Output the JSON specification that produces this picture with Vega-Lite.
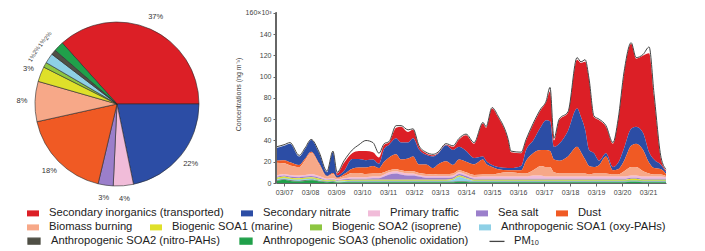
{
  "$schema": "https://vega.github.io/schema/vega-lite/v6.json",
  "padding": 5,
  "background": "white",
  "config": {
    "view": {"stroke": null},
    "font": "Liberation Sans",
    "concat": {"spacing": 5},
    "legend": {
      "orient": "none", "direction": "horizontal",
      "title": null, "labelFontSize": 11.2, "labelColor": "#222", "labelLimit": 400,
      "columnPadding": 17, "labelOffset": 10, "symbolSize": 144
    }
  },
  "datasets": {
    "comps": [
      {"key": "si", "name": "Secondary inorganics (transported)", "k": 1, "s": 11, "p": 0.37, "c0": 0, "c1": 0.37, "cm": 0.185},
      {"key": "sn", "name": "Secondary nitrate", "k": 2, "s": 10, "p": 0.22, "c0": 0.37, "c1": 0.59, "cm": 0.48},
      {"key": "pt", "name": "Primary traffic", "k": 3, "s": 7, "p": 0.04, "c0": 0.59, "c1": 0.63, "cm": 0.61},
      {"key": "ss", "name": "Sea salt", "k": 4, "s": 6, "p": 0.03, "c0": 0.63, "c1": 0.66, "cm": 0.645},
      {"key": "du", "name": "Dust", "k": 5, "s": 9, "p": 0.18, "c0": 0.66, "c1": 0.84, "cm": 0.75},
      {"key": "bb", "name": "Biomass burning", "k": 6, "s": 8, "p": 0.08, "c0": 0.84, "c1": 0.92, "cm": 0.88},
      {"key": "b1", "name": "Biogenic SOA1 (marine)", "k": 7, "s": 5, "p": 0.03, "c0": 0.92, "c1": 0.95, "cm": 0.935},
      {"key": "b2", "name": "Biogenic SOA2 (isoprene)", "k": 8, "s": 4, "p": 0.01, "c0": 0.95, "c1": 0.96, "cm": 0.955},
      {"key": "a1", "name": "Anthropogenic SOA1 (oxy-PAHs)", "k": 9, "s": 3, "p": 0.02, "c0": 0.96, "c1": 0.98, "cm": 0.97},
      {"key": "a2", "name": "Anthropogenic SOA2 (nitro-PAHs)", "k": 10, "s": 2, "p": 0.01, "c0": 0.98, "c1": 0.99, "cm": 0.985},
      {"key": "a3", "name": "Anthropogenic SOA3 (phenolic oxidation)", "k": 11, "s": 1, "p": 0.02, "c0": 0.99, "c1": 1.01, "cm": 1.0}
    ],
    "ts": [
      {"d": 6.69, "si": 0, "sn": 12, "pt": 1.5, "ss": 1, "du": 2, "bb": 12, "b1": 1, "b2": 0.5, "a1": 1, "a2": 0.5, "a3": 1.5, "pm": 34},
      {"d": 7.0, "si": 0, "sn": 13.5, "pt": 1.5, "ss": 1, "du": 3, "bb": 10, "b1": 1, "b2": 0.5, "a1": 1, "a2": 0.5, "a3": 3, "pm": 36},
      {"d": 7.23, "si": 0, "sn": 17.5, "pt": 1.5, "ss": 1, "du": 3, "bb": 9, "b1": 1, "b2": 0.5, "a1": 1, "a2": 0.5, "a3": 2, "pm": 38},
      {"d": 7.58, "si": 0, "sn": 8, "pt": 1.5, "ss": 1, "du": 2, "bb": 8, "b1": 1, "b2": 0.5, "a1": 1, "a2": 0.5, "a3": 1.5, "pm": 26},
      {"d": 7.81, "si": 0, "sn": 9, "pt": 1.5, "ss": 1, "du": 1.5, "bb": 14, "b1": 1, "b2": 0.5, "a1": 1, "a2": 0.5, "a3": 2, "pm": 33},
      {"d": 8.04, "si": 0, "sn": 11, "pt": 2, "ss": 1, "du": 1, "bb": 20, "b1": 1, "b2": 0.5, "a1": 1, "a2": 0.5, "a3": 2.5, "pm": 41},
      {"d": 8.35, "si": 0, "sn": 9.5, "pt": 1.5, "ss": 1, "du": 1, "bb": 11, "b1": 1, "b2": 0.5, "a1": 0.5, "a2": 0.5, "a3": 1.5, "pm": 29},
      {"d": 8.65, "si": 0, "sn": 3.5, "pt": 1, "ss": 0.5, "du": 0.5, "bb": 2, "b1": 0.6, "b2": 0.3, "a1": 0.5, "a2": 0.3, "a3": 0.8, "pm": 11},
      {"d": 8.88, "si": 0, "sn": 19.5, "pt": 1, "ss": 0.5, "du": 1, "bb": 4, "b1": 0.7, "b2": 0.3, "a1": 0.6, "a2": 0.4, "a3": 1, "pm": 30},
      {"d": 9.04, "si": 2, "sn": 2, "pt": 1, "ss": 0.5, "du": 0.5, "bb": 1, "b1": 0.5, "b2": 0.2, "a1": 0.5, "a2": 0.3, "a3": 0.5, "pm": 10},
      {"d": 9.31, "si": 7.5, "sn": 3, "pt": 1, "ss": 1, "du": 2, "bb": 2, "b1": 0.6, "b2": 0.3, "a1": 0.6, "a2": 0.3, "a3": 0.7, "pm": 21},
      {"d": 9.62, "si": 5.5, "sn": 9, "pt": 1.5, "ss": 1, "du": 4, "bb": 4, "b1": 0.7, "b2": 0.4, "a1": 0.8, "a2": 0.3, "a3": 0.8, "pm": 31},
      {"d": 9.88, "si": 7.5, "sn": 8, "pt": 1.5, "ss": 1, "du": 5, "bb": 4, "b1": 0.7, "b2": 0.4, "a1": 0.8, "a2": 0.3, "a3": 0.8, "pm": 36},
      {"d": 10.15, "si": 8.5, "sn": 7, "pt": 1.5, "ss": 1, "du": 6, "bb": 3, "b1": 0.7, "b2": 0.4, "a1": 0.8, "a2": 0.3, "a3": 0.8, "pm": 40},
      {"d": 10.42, "si": 7, "sn": 6, "pt": 1.5, "ss": 1.5, "du": 7, "bb": 3, "b1": 0.7, "b2": 0.4, "a1": 0.8, "a2": 0.3, "a3": 0.8, "pm": 38},
      {"d": 10.65, "si": 6, "sn": 4, "pt": 1.5, "ss": 1.5, "du": 5, "bb": 3, "b1": 0.7, "b2": 0.4, "a1": 0.8, "a2": 0.3, "a3": 0.8, "pm": 28},
      {"d": 10.85, "si": 4, "sn": 12, "pt": 2, "ss": 3, "du": 10, "bb": 2, "b1": 0.7, "b2": 0.4, "a1": 0.8, "a2": 0.3, "a3": 0.8, "pm": 37},
      {"d": 11.04, "si": 2, "sn": 12, "pt": 2, "ss": 5, "du": 12, "bb": 2, "b1": 0.7, "b2": 0.4, "a1": 0.8, "a2": 0.3, "a3": 0.8, "pm": 39},
      {"d": 11.31, "si": 10, "sn": 15, "pt": 2, "ss": 6, "du": 14, "bb": 2, "b1": 0.7, "b2": 0.4, "a1": 0.8, "a2": 0.3, "a3": 0.8, "pm": 54},
      {"d": 11.5, "si": 15, "sn": 16, "pt": 2, "ss": 5, "du": 10, "bb": 2, "b1": 0.7, "b2": 0.4, "a1": 0.8, "a2": 0.3, "a3": 0.8, "pm": 54},
      {"d": 11.77, "si": 10, "sn": 15, "pt": 2, "ss": 4, "du": 12, "bb": 2, "b1": 0.7, "b2": 0.4, "a1": 0.8, "a2": 0.3, "a3": 0.8, "pm": 50},
      {"d": 11.96, "si": 8, "sn": 17, "pt": 2, "ss": 4, "du": 14, "bb": 2, "b1": 0.7, "b2": 0.4, "a1": 0.8, "a2": 0.3, "a3": 0.8, "pm": 51},
      {"d": 12.19, "si": 2.5, "sn": 14, "pt": 1.5, "ss": 3, "du": 8, "bb": 2, "b1": 0.7, "b2": 0.4, "a1": 0.8, "a2": 0.3, "a3": 0.8, "pm": 35},
      {"d": 12.46, "si": 1.5, "sn": 9, "pt": 1.5, "ss": 2, "du": 9, "bb": 2, "b1": 0.7, "b2": 0.4, "a1": 0.8, "a2": 0.3, "a3": 0.8, "pm": 29},
      {"d": 12.73, "si": 1, "sn": 11, "pt": 1.5, "ss": 2, "du": 6, "bb": 1.5, "b1": 0.7, "b2": 0.4, "a1": 0.8, "a2": 0.3, "a3": 0.8, "pm": 27},
      {"d": 12.92, "si": 0.5, "sn": 10, "pt": 1.5, "ss": 2, "du": 9, "bb": 2, "b1": 0.7, "b2": 0.4, "a1": 0.8, "a2": 0.3, "a3": 0.8, "pm": 29},
      {"d": 13.23, "si": 0.5, "sn": 15, "pt": 1.5, "ss": 2, "du": 12, "bb": 2, "b1": 0.7, "b2": 0.4, "a1": 0.8, "a2": 0.3, "a3": 0.8, "pm": 37},
      {"d": 13.5, "si": 3, "sn": 14, "pt": 1.5, "ss": 1.5, "du": 8, "bb": 2, "b1": 0.7, "b2": 0.4, "a1": 1.8, "a2": 0.3, "a3": 0.8, "pm": 35},
      {"d": 13.73, "si": 7, "sn": 12, "pt": 1.5, "ss": 1.5, "du": 10, "bb": 2, "b1": 0.8, "b2": 0.5, "a1": 4, "a2": 0.5, "a3": 1.2, "pm": 42},
      {"d": 14.0, "si": 15, "sn": 10, "pt": 1.5, "ss": 1.5, "du": 10, "bb": 2, "b1": 0.7, "b2": 0.4, "a1": 2.5, "a2": 0.4, "a3": 1, "pm": 46},
      {"d": 14.31, "si": 13.5, "sn": 6, "pt": 1.5, "ss": 1, "du": 10, "bb": 2, "b1": 0.7, "b2": 0.4, "a1": 0.8, "a2": 0.3, "a3": 0.8, "pm": 38},
      {"d": 14.65, "si": 31, "sn": 3, "pt": 2, "ss": 1, "du": 14, "bb": 2, "b1": 0.7, "b2": 0.4, "a1": 0.8, "a2": 0.3, "a3": 0.8, "pm": 57},
      {"d": 14.77, "si": 31, "sn": 3, "pt": 2, "ss": 1, "du": 10, "bb": 2, "b1": 0.7, "b2": 0.4, "a1": 0.8, "a2": 0.3, "a3": 0.8, "pm": 53},
      {"d": 15.0, "si": 53, "sn": 2, "pt": 2, "ss": 1, "du": 7, "bb": 2, "b1": 0.7, "b2": 0.4, "a1": 0.8, "a2": 0.3, "a3": 0.8, "pm": 71},
      {"d": 15.23, "si": 47, "sn": 2, "pt": 2, "ss": 1, "du": 4, "bb": 3, "b1": 0.7, "b2": 0.4, "a1": 0.8, "a2": 0.3, "a3": 0.8, "pm": 63},
      {"d": 15.62, "si": 26, "sn": 2, "pt": 2, "ss": 1, "du": 2, "bb": 4, "b1": 0.7, "b2": 0.4, "a1": 0.8, "a2": 0.3, "a3": 0.8, "pm": 41},
      {"d": 15.73, "si": 15, "sn": 2, "pt": 2, "ss": 1, "du": 2, "bb": 4, "b1": 0.7, "b2": 0.4, "a1": 0.8, "a2": 0.3, "a3": 0.8, "pm": 30},
      {"d": 16.12, "si": 12, "sn": 4, "pt": 2, "ss": 1, "du": 3, "bb": 3, "b1": 0.7, "b2": 0.4, "a1": 0.8, "a2": 0.3, "a3": 0.8, "pm": 29},
      {"d": 16.31, "si": 9, "sn": 10, "pt": 2, "ss": 1, "du": 12, "bb": 3, "b1": 0.7, "b2": 0.4, "a1": 0.8, "a2": 0.3, "a3": 0.8, "pm": 41},
      {"d": 16.58, "si": 15, "sn": 12, "pt": 3, "ss": 1, "du": 16, "bb": 5, "b1": 0.7, "b2": 0.4, "a1": 0.8, "a2": 0.3, "a3": 0.8, "pm": 56},
      {"d": 16.88, "si": 16, "sn": 22, "pt": 3, "ss": 1, "du": 15, "bb": 9, "b1": 0.7, "b2": 0.4, "a1": 0.8, "a2": 0.3, "a3": 0.8, "pm": 70},
      {"d": 17.08, "si": 17, "sn": 28, "pt": 2, "ss": 1, "du": 16, "bb": 9, "b1": 0.7, "b2": 0.4, "a1": 0.8, "a2": 0.3, "a3": 0.8, "pm": 77},
      {"d": 17.23, "si": 28, "sn": 28, "pt": 2, "ss": 1, "du": 15, "bb": 9, "b1": 0.7, "b2": 0.4, "a1": 0.8, "a2": 0.3, "a3": 0.8, "pm": 90},
      {"d": 17.38, "si": 6, "sn": 12, "pt": 2, "ss": 1, "du": 12, "bb": 4, "b1": 0.7, "b2": 0.4, "a1": 0.8, "a2": 0.3, "a3": 0.8, "pm": 42},
      {"d": 17.58, "si": 22, "sn": 16, "pt": 2, "ss": 1, "du": 12, "bb": 3, "b1": 0.7, "b2": 0.4, "a1": 0.8, "a2": 0.3, "a3": 0.8, "pm": 60},
      {"d": 17.92, "si": 17, "sn": 24, "pt": 2, "ss": 1, "du": 16, "bb": 3, "b1": 0.7, "b2": 0.4, "a1": 0.8, "a2": 0.3, "a3": 0.8, "pm": 67},
      {"d": 18.27, "si": 46, "sn": 36, "pt": 2, "ss": 1, "du": 25, "bb": 3, "b1": 0.7, "b2": 0.4, "a1": 0.8, "a2": 0.3, "a3": 0.8, "pm": 118},
      {"d": 18.42, "si": 51, "sn": 33, "pt": 2, "ss": 1, "du": 20, "bb": 3, "b1": 0.7, "b2": 0.4, "a1": 0.8, "a2": 0.3, "a3": 0.8, "pm": 114},
      {"d": 18.58, "si": 64, "sn": 28, "pt": 2, "ss": 1, "du": 13, "bb": 3, "b1": 0.7, "b2": 0.4, "a1": 0.8, "a2": 0.3, "a3": 0.8, "pm": 116},
      {"d": 18.73, "si": 66, "sn": 15, "pt": 2, "ss": 1, "du": 8, "bb": 2, "b1": 0.7, "b2": 0.4, "a1": 0.8, "a2": 0.3, "a3": 0.8, "pm": 98},
      {"d": 18.92, "si": 34, "sn": 13, "pt": 2, "ss": 1, "du": 6, "bb": 3, "b1": 0.7, "b2": 0.4, "a1": 0.8, "a2": 0.3, "a3": 0.8, "pm": 63},
      {"d": 19.12, "si": 38, "sn": 4, "pt": 2, "ss": 1, "du": 8, "bb": 3, "b1": 0.7, "b2": 0.4, "a1": 0.8, "a2": 0.3, "a3": 0.8, "pm": 60},
      {"d": 19.38, "si": 25, "sn": 3, "pt": 2, "ss": 1, "du": 16, "bb": 3, "b1": 0.7, "b2": 0.4, "a1": 0.8, "a2": 0.3, "a3": 0.8, "pm": 54},
      {"d": 19.65, "si": 22, "sn": 3, "pt": 2, "ss": 1, "du": 4, "bb": 2, "b1": 0.7, "b2": 0.4, "a1": 0.8, "a2": 0.3, "a3": 0.8, "pm": 38},
      {"d": 19.85, "si": 40, "sn": 6, "pt": 2, "ss": 1, "du": 5, "bb": 2, "b1": 0.7, "b2": 0.4, "a1": 0.8, "a2": 0.3, "a3": 0.8, "pm": 60},
      {"d": 20.08, "si": 70, "sn": 12, "pt": 2, "ss": 1, "du": 10, "bb": 5, "b1": 0.7, "b2": 0.4, "a1": 0.8, "a2": 0.3, "a3": 0.8, "pm": 105},
      {"d": 20.35, "si": 80, "sn": 16, "pt": 2, "ss": 1, "du": 20, "bb": 8, "b1": 1.2, "b2": 0.6, "a1": 0.8, "a2": 0.3, "a3": 1.1, "pm": 132},
      {"d": 20.54, "si": 64, "sn": 16, "pt": 2, "ss": 1, "du": 22, "bb": 8, "b1": 1.2, "b2": 0.6, "a1": 0.8, "a2": 0.3, "a3": 1.1, "pm": 118},
      {"d": 20.81, "si": 73, "sn": 16, "pt": 2, "ss": 1, "du": 20, "bb": 5, "b1": 0.7, "b2": 0.4, "a1": 0.8, "a2": 0.3, "a3": 0.8, "pm": 121},
      {"d": 21.04, "si": 93, "sn": 10, "pt": 2, "ss": 1, "du": 10, "bb": 3, "b1": 0.7, "b2": 0.4, "a1": 0.8, "a2": 0.3, "a3": 0.8, "pm": 128},
      {"d": 21.23, "si": 59, "sn": 8, "pt": 2, "ss": 1, "du": 6, "bb": 2, "b1": 0.7, "b2": 0.4, "a1": 0.8, "a2": 0.3, "a3": 0.8, "pm": 84},
      {"d": 21.5, "si": 5, "sn": 4, "pt": 2, "ss": 1, "du": 5, "bb": 2, "b1": 0.7, "b2": 0.4, "a1": 0.8, "a2": 0.3, "a3": 0.8, "pm": 24},
      {"d": 21.69, "si": 1.5, "sn": 2, "pt": 1.5, "ss": 1, "du": 2, "bb": 1, "b1": 0.7, "b2": 0.4, "a1": 0.8, "a2": 0.3, "a3": 0.8, "pm": 13}
    ]
  },
  "hconcat": [
    {
      "width": 224,
      "height": 198,
      "data": {"name": "comps"},
      "layer": [
        {
          "transform": [{"filter": "datum.k <= 5"}],
          "mark": {"type": "arc", "outerRadius": 82, "stroke": "#2a2a2a", "strokeWidth": 0.6},
          "encoding": {
            "theta": {"field": "c0", "type": "quantitative", "scale": {"domain": [0, 1.01], "range": [-0.7313, 5.5519]}},
            "theta2": {"field": "c1"},
            "color": {"field": "name", "type": "nominal"}
          }
        },
        {
          "transform": [{"filter": "datum.k >= 6 && datum.k <= 9"}],
          "mark": {"type": "arc", "outerRadius": 82, "stroke": "#2a2a2a", "strokeWidth": 0.6},
          "encoding": {
            "theta": {"field": "c0", "type": "quantitative"},
            "theta2": {"field": "c1"},
            "fill": {"field": "name", "type": "nominal"}
          }
        },
        {
          "transform": [{"filter": "datum.k == 10"}],
          "mark": {"type": "arc", "outerRadius": 82, "stroke": "#2a2a2a", "strokeWidth": 0.6, "fill": "#4f4f45"},
          "encoding": {
            "theta": {"field": "c0", "type": "quantitative"},
            "theta2": {"field": "c1"}
          }
        },
        {
          "transform": [{"filter": "datum.k == 11"}],
          "mark": {"type": "arc", "outerRadius": 82, "stroke": "#2a2a2a", "strokeWidth": 0.6, "fill": "#20a04a"},
          "encoding": {
            "theta": {"field": "c0", "type": "quantitative"},
            "theta2": {"field": "c1"}
          }
        },
        {
          "transform": [{"filter": "datum.k < 8"}],
          "mark": {"type": "text", "radius": 95, "fontSize": 7.5, "color": "#333"},
          "encoding": {
            "theta": {"field": "cm", "type": "quantitative"},
            "text": {"field": "p", "format": ".0%"}
          }
        },
        {
          "transform": [{"filter": "datum.k >= 8"}],
          "mark": {"type": "text", "radius": 97, "fontSize": 6, "angle": 302, "color": "#333"},
          "encoding": {
            "theta": {"field": "cm", "type": "quantitative"},
            "text": {"field": "p", "format": ".0%"}
          }
        }
      ]
    },
    {
      "width": 390,
      "height": 178,
      "data": {"name": "ts"},
      "encoding": {
        "x": {
          "field": "d", "type": "quantitative",
          "scale": {"domain": [6.69, 21.69], "nice": false, "zero": false},
          "axis": {
            "title": null, "values": [7, 8, 9, 10, 11, 12, 13, 14, 15, 16, 17, 18, 19, 20, 21],
            "labelExpr": "'03/' + (datum.value < 10 ? '0' : '') + datum.value",
            "labelFontSize": 7, "labelColor": "#444", "tickSize": 3, "tickColor": "#666",
            "domainColor": "#666", "grid": false, "labelPadding": 2
          }
        },
        "y": {
          "type": "quantitative",
          "scale": {"domain": [0, 167.5], "nice": false},
          "axis": {
            "title": "Concentrations (ng m⁻³)", "titleFontSize": 7, "titleFontWeight": "normal", "titleColor": "#444", "titlePadding": 4,
            "values": [0, 20, 40, 60, 80, 100, 120, 140, 160],
            "labelExpr": "datum.value == 160 ? '160×10³' : datum.label",
            "labelFontSize": 7, "labelColor": "#444", "tickSize": 3, "tickColor": "#666",
            "domain": false, "grid": false, "labelPadding": 2
          }
        }
      },
      "layer": [
        {
          "transform": [
            {"fold": ["si", "sn", "pt", "ss", "du", "bb", "b1", "b2", "a1", "a2", "a3"], "as": ["key", "v"]},
            {"lookup": "key", "from": {"data": {"name": "comps"}, "key": "key", "fields": ["name", "s", "k"]}},
            {"stack": "v", "groupby": ["d"], "sort": [{"field": "s", "order": "ascending"}], "as": ["y0", "y1"]}
          ],
          "layer": [
            {
              "transform": [{"filter": "datum.k <= 5"}],
              "mark": {"type": "area", "interpolate": "monotone"},
              "encoding": {
                "y": {"field": "y1", "type": "quantitative"},
                "y2": {"field": "y0"},
                "color": {
                  "field": "name", "type": "nominal",
                  "scale": {
                    "domain": ["Secondary inorganics (transported)", "Secondary nitrate", "Primary traffic", "Sea salt", "Dust"],
                    "range": ["#dc1f26", "#2c4da5", "#f1bcd9", "#9b7fcb", "#f05a24"]
                  },
                  "legend": {
                    "legendX": 22, "legendY": 202,
                    "encode": {"symbols": {"update": {"shape": {"value": "M-1,-0.5H1V0.5H-1Z"}, "size": {"value": 144}, "strokeWidth": {"value": 0}}}}
                  }
                }
              }
            },
            {
              "transform": [{"filter": "datum.k >= 6 && datum.k <= 9"}],
              "mark": {"type": "area", "interpolate": "monotone"},
              "encoding": {
                "y": {"field": "y1", "type": "quantitative"},
                "y2": {"field": "y0"},
                "fill": {
                  "field": "name", "type": "nominal",
                  "scale": {
                    "domain": ["Biomass burning", "Biogenic SOA1 (marine)", "Biogenic SOA2 (isoprene)", "Anthropogenic SOA1 (oxy-PAHs)"],
                    "range": ["#f7a888", "#dfe02a", "#8dc641", "#8ed0e6"]
                  },
                  "legend": {
                    "legendX": 22, "legendY": 216,
                    "encode": {"symbols": {"update": {"shape": {"value": "M-1,-0.5H1V0.5H-1Z"}, "size": {"value": 144}, "strokeWidth": {"value": 0}}}}
                  }
                }
              }
            },
            {
              "transform": [{"filter": "datum.k == 10"}],
              "mark": {"type": "area", "interpolate": "monotone", "fill": "#4f4f45", "strokeWidth": 0},
              "encoding": {
                "y": {"field": "y1", "type": "quantitative"},
                "y2": {"field": "y0"},
                "stroke": {"field": "name", "type": "nominal"}
              }
            },
            {
              "transform": [{"filter": "datum.k == 11"}],
              "mark": {"type": "area", "interpolate": "monotone", "fill": "#20a04a", "strokeWidth": 0},
              "encoding": {
                "y": {"field": "y1", "type": "quantitative"},
                "y2": {"field": "y0"},
                "stroke": {"field": "name", "type": "nominal"}
              }
            }
          ]
        },
        {
          "mark": {"type": "line", "interpolate": "monotone", "strokeWidth": 1},
          "encoding": {
            "y": {"field": "pm", "type": "quantitative"},
            "stroke": {
              "datum": "PM₁₀",
              "scale": {
                "domain": ["Anthropogenic SOA2 (nitro-PAHs)", "Anthropogenic SOA3 (phenolic oxidation)", "PM₁₀"],
                "range": ["#4f4f45", "#20a04a", "#444444"]
              },
              "legend": {
                "legendX": 22, "legendY": 229,
                "encode": {
                  "symbols": {
                    "update": {
                      "shape": {"signal": "datum.value === 'PM₁₀' ? 'M-1,0H1' : 'M-1,-0.5H1V0.5H-1Z'"},
                      "size": {"signal": "datum.value === 'PM₁₀' ? 225 : 144"},
                      "fill": {"signal": "datum.value === 'PM₁₀' ? 'transparent' : (datum.value === 'Anthropogenic SOA2 (nitro-PAHs)' ? '#4f4f45' : '#20a04a')"},
                      "stroke": {"signal": "datum.value === 'PM₁₀' ? '#444444' : 'transparent'"},
                      "strokeWidth": {"value": 1.3},
                      "opacity": {"value": 1}
                    }
                  }
                }
              }
            }
          }
        },
        {
          "mark": {"type": "rule", "color": "#666"},
          "encoding": {
            "x": {"datum": 6.69},
            "y": {"datum": 0},
            "y2": {"datum": 160}
          }
        }
      ]
    }
  ],
  "resolve": {
    "scale": {"color": "shared", "fill": "shared", "stroke": "shared"},
    "legend": {"color": "shared", "fill": "shared", "stroke": "shared"}
  }
}
